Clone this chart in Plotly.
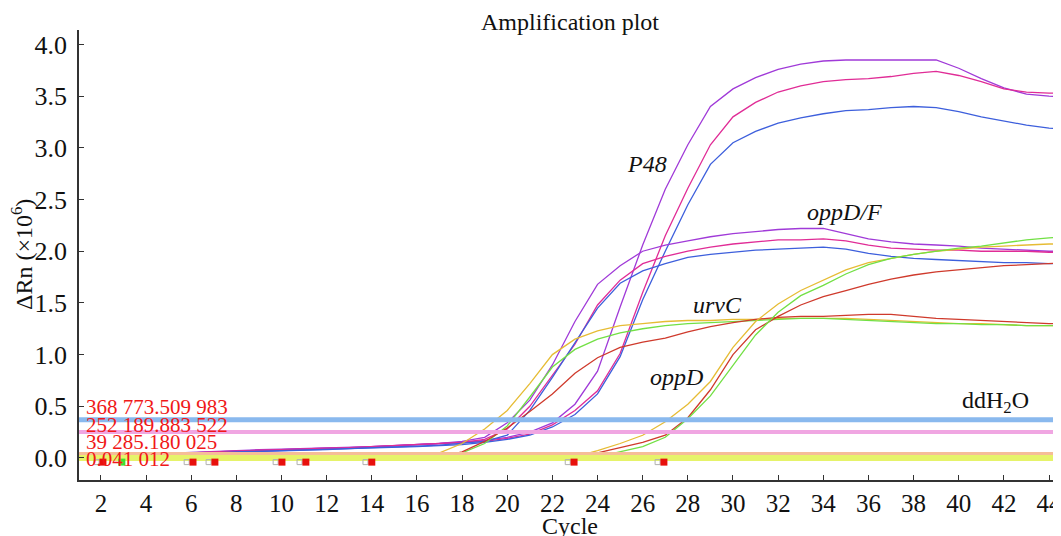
import plotly.graph_objects as go

cycles = list(range(1, 46))

p48_purple = [0.02, 0.025, 0.03, 0.035, 0.04, 0.05, 0.06, 0.07, 0.075, 0.08, 0.09, 0.095, 0.10, 0.11, 0.12, 0.13, 0.14, 0.15,
              0.17, 0.20, 0.25, 0.34, 0.52, 0.84, 1.46, 2.06, 2.60, 3.03, 3.40, 3.57, 3.68, 3.76, 3.81, 3.84, 3.85, 3.85,
              3.85, 3.85, 3.85, 3.77, 3.67, 3.58, 3.52, 3.50, 3.49]
p48_magenta = [0.02, 0.02, 0.025, 0.03, 0.035, 0.045, 0.055, 0.065, 0.07, 0.075, 0.085, 0.09, 0.095, 0.105, 0.115, 0.125, 0.135, 0.145,
               0.16, 0.19, 0.23, 0.32, 0.46, 0.65, 1.01, 1.60, 2.15, 2.61, 3.03, 3.30, 3.44, 3.54, 3.60, 3.64, 3.66, 3.67,
               3.69, 3.72, 3.74, 3.70, 3.64, 3.57, 3.54, 3.53, 3.53]
p48_blue = [0.015, 0.02, 0.02, 0.025, 0.03, 0.04, 0.05, 0.055, 0.06, 0.07, 0.075, 0.08, 0.09, 0.095, 0.10, 0.11, 0.12, 0.13,
            0.15, 0.18, 0.22, 0.30, 0.42, 0.62, 0.98, 1.53, 2.00, 2.45, 2.84, 3.05, 3.16, 3.24, 3.29, 3.33, 3.36, 3.37,
            3.39, 3.40, 3.39, 3.35, 3.30, 3.26, 3.22, 3.19, 3.18]

oppdf_purple = [0.02, 0.025, 0.03, 0.035, 0.045, 0.055, 0.065, 0.07, 0.08, 0.085, 0.09, 0.10, 0.105, 0.11, 0.12, 0.13, 0.14, 0.16,
                0.20, 0.34, 0.56, 0.90, 1.32, 1.68, 1.86, 2.00, 2.06, 2.10, 2.14, 2.17, 2.19, 2.21, 2.22, 2.22, 2.17, 2.12,
                2.09, 2.07, 2.06, 2.05, 2.03, 2.02, 2.01, 2.00, 2.00]
oppdf_magenta = [0.02, 0.02, 0.03, 0.035, 0.04, 0.05, 0.06, 0.07, 0.075, 0.08, 0.09, 0.095, 0.10, 0.11, 0.115, 0.125, 0.135, 0.15,
                 0.18, 0.28, 0.50, 0.80, 1.10, 1.48, 1.72, 1.88, 1.95, 2.00, 2.04, 2.07, 2.09, 2.11, 2.11, 2.12, 2.10, 2.06,
                 2.03, 2.02, 2.01, 2.01, 2.00, 2.00, 2.00, 1.99, 1.99]
oppdf_blue = [0.015, 0.02, 0.025, 0.03, 0.035, 0.045, 0.05, 0.06, 0.065, 0.07, 0.08, 0.085, 0.09, 0.10, 0.105, 0.115, 0.125, 0.14,
              0.16, 0.22, 0.46, 0.78, 1.12, 1.45, 1.69, 1.81, 1.88, 1.94, 1.97, 1.99, 2.01, 2.02, 2.03, 2.04, 2.02, 1.98,
              1.95, 1.93, 1.92, 1.91, 1.90, 1.89, 1.89, 1.88, 1.88]

urvc_yellow = [0.0, 0.0, 0.0, 0.0, 0.0, 0.0, 0.0, 0.0, 0.0, 0.0, 0.0, 0.0, 0.0, 0.0, 0.0, 0.01,
               0.05, 0.14, 0.28, 0.46, 0.72, 1.00, 1.15, 1.23, 1.28, 1.30, 1.32, 1.33, 1.33, 1.34, 1.34, 1.35, 1.35,
               1.35, 1.35, 1.34, 1.33, 1.32, 1.31, 1.30, 1.30, 1.29, 1.28, 1.28, 1.28]
urvc_green = [0.0, 0.0, 0.0, 0.0, 0.0, 0.0, 0.0, 0.0, 0.0, 0.0, 0.0, 0.0, 0.0, 0.0, 0.0, 0.0, 0.01,
              0.05, 0.14, 0.31, 0.59, 0.88, 1.05, 1.15, 1.21, 1.25, 1.28, 1.30, 1.31, 1.32, 1.33, 1.34, 1.35, 1.35,
              1.34, 1.33, 1.32, 1.31, 1.30, 1.30, 1.29, 1.29, 1.28, 1.28, 1.28]
urvc_red = [0.0, 0.0, 0.0, 0.0, 0.0, 0.0, 0.0, 0.0, 0.0, 0.0, 0.0, 0.0, 0.0, 0.0, 0.0, 0.0, 0.01,
            0.06, 0.16, 0.29, 0.45, 0.62, 0.82, 0.97, 1.07, 1.12, 1.16, 1.22, 1.27, 1.31, 1.34, 1.36, 1.37, 1.37,
            1.38, 1.39, 1.39, 1.37, 1.35, 1.34, 1.33, 1.32, 1.31, 1.30, 1.30]

oppd_yellow = [0.0, 0.0, 0.0, 0.0, 0.0, 0.0, 0.0, 0.0, 0.0, 0.0, 0.0, 0.0, 0.0, 0.0, 0.0, 0.0, 0.0, 0.0, 0.0, 0.0,
               0.0, 0.0, 0.01, 0.07, 0.14, 0.22, 0.35, 0.52, 0.74, 1.07, 1.32, 1.49, 1.62, 1.72, 1.82, 1.89, 1.93,
               1.97, 2.00, 2.02, 2.04, 2.05, 2.06, 2.07, 2.07]
oppd_red = [0.0, 0.0, 0.0, 0.0, 0.0, 0.0, 0.0, 0.0, 0.0, 0.0, 0.0, 0.0, 0.0, 0.0, 0.0, 0.0, 0.0, 0.0, 0.0, 0.0,
            0.0, 0.0, 0.01, 0.05, 0.10, 0.15, 0.22, 0.39, 0.66, 1.00, 1.24, 1.37, 1.48, 1.56, 1.62, 1.68, 1.73,
            1.77, 1.80, 1.82, 1.84, 1.86, 1.87, 1.88, 1.89]
oppd_green = [0.0, 0.0, 0.0, 0.0, 0.0, 0.0, 0.0, 0.0, 0.0, 0.0, 0.0, 0.0, 0.0, 0.0, 0.0, 0.0, 0.0, 0.0, 0.0, 0.0,
              0.0, 0.0, 0.0, 0.01, 0.06, 0.11, 0.20, 0.38, 0.60, 0.90, 1.19, 1.41, 1.57, 1.67, 1.78, 1.87, 1.93,
              1.97, 2.00, 2.03, 2.05, 2.08, 2.11, 2.13, 2.14]

# thresholds (x10^6) and their labels
threshold_values = [0.368773509983, 0.252189883522, 0.039285180025, 0.000041012]
threshold_labels = ["368 773.509 983", "252 189.883 522", "39 285.180 025", "0.041 012"]
threshold_colors = ["#8ab9ee", "#f0a6e2", "#f6bd98", "#e6f36a"]
threshold_widths = [5, 4, 4, 6]
label_y = [0.49, 0.32, 0.155, -0.01]

# baseline start/end markers
marker_cycles = [2.09, 6.08, 7.05, 10.02, 11.08, 14.0, 22.96, 26.94]
green_marker_cycles = [2.93]
marker_level = -0.04

x_tick_vals = list(range(2, 46, 2))
y_tick_vals = [0.0, 0.5, 1.0, 1.5, 2.0, 2.5, 3.0, 3.5, 4.0]
y_tick_text = ["0.0", "0.5", "1.0", "1.5", "2.0", "2.5", "3.0", "3.5", "4.0"]

gene_labels = ["<i>P48</i>", "<i>oppD/F</i>", "<i>urvC</i>", "<i>oppD</i>", "ddH<sub>2</sub>O"]
gene_x = [26.2, 34.96, 29.3, 27.5, 41.65]
gene_y = [2.84, 2.38, 1.48, 0.78, 0.54]

PURPLE = "#a03ad8"
MAGENTA = "#e02c96"
BLUE = "#3d5fdc"
YELLOW = "#e6bc34"
GREEN = "#72e044"
RED = "#cf3a2c"

series = [
    (p48_purple, PURPLE), (p48_magenta, MAGENTA), (p48_blue, BLUE),
    (oppdf_purple, PURPLE), (oppdf_magenta, MAGENTA), (oppdf_blue, BLUE),
    (urvc_yellow, YELLOW), (urvc_green, GREEN), (urvc_red, RED),
    (oppd_yellow, YELLOW), (oppd_red, RED), (oppd_green, GREEN),
]

FONT = "Liberation Serif, Times New Roman, serif"
TXT = "#111111"
X_RANGE = [1.03, 44.53]
Y_RANGE = [-0.213, 4.14]

# the page body has an 8 px default margin; size the figure to the visible area
OFF = 8
W, H = 1061 - OFF, 536 - OFF
ML, MR, MT, MB = 79 - OFF, 0, 30 - OFF, H - (480 - OFF)
PW, PH = W - ML - MR, H - MT - MB

fig = go.Figure()
for vals, col in series:
    fig.add_trace(go.Scatter(x=cycles, y=vals, mode="lines",
                             line=dict(color=col, width=1.3), hoverinfo="skip"))

for val, col, w in zip(threshold_values, threshold_colors, threshold_widths):
    fig.add_trace(go.Scatter(x=X_RANGE, y=[val, val], mode="lines",
                             line=dict(color=col, width=w), hoverinfo="skip"))

# small grey boxes next to red markers
fig.add_trace(go.Scatter(x=[c - 0.28 for c in marker_cycles], y=[marker_level] * len(marker_cycles),
                         mode="markers", marker=dict(symbol="square-open", size=5,
                                                     color="#b0b0b0", line=dict(width=1)),
                         hoverinfo="skip"))
fig.add_trace(go.Scatter(x=marker_cycles, y=[marker_level] * len(marker_cycles), mode="markers",
                         marker=dict(symbol="square", size=7, color="#e8100c"), hoverinfo="skip"))
fig.add_trace(go.Scatter(x=green_marker_cycles, y=[marker_level] * len(green_marker_cycles), mode="markers",
                         marker=dict(symbol="square", size=7, color="#3ee030"), hoverinfo="skip"))

for txt, yy in zip(threshold_labels, label_y):
    fig.add_annotation(x=0.005, xref="paper", y=yy, yref="y", text=txt, showarrow=False,
                       xanchor="left", yanchor="middle",
                       font=dict(family=FONT, size=21, color="#f01818"))

for txt, xx, yy in zip(gene_labels, gene_x, gene_y):
    fig.add_annotation(x=xx, y=yy, text=txt, showarrow=False, xanchor="center", yanchor="middle",
                       font=dict(family=FONT, size=24, color=TXT))

# axis titles
fig.add_annotation(x=0.5, xref="paper", y=(H - MB - (526 - OFF)) / PH, yref="paper", text="Cycle",
                   showarrow=False, xanchor="center", yanchor="middle",
                   font=dict(family=FONT, size=24, color=TXT))
fig.add_annotation(x=((22 - OFF) - ML) / PW, xref="paper", y=(H - MB - (255 - OFF)) / PH, yref="paper",
                   text="ΔRn (×10<sup>6</sup>)", textangle=-90, showarrow=False,
                   xanchor="center", yanchor="middle", font=dict(family=FONT, size=24, color=TXT))

fig.update_layout(
    width=W, height=H,
    margin=dict(l=ML, r=MR, t=MT, b=MB, autoexpand=False),
    paper_bgcolor="white", plot_bgcolor="white",
    showlegend=False,
    font=dict(family=FONT, size=24, color=TXT),
    title=dict(text="Amplification plot", x=0.5, xref="paper", y=1 - (22 - OFF) / H, yref="container",
               xanchor="center", yanchor="middle", font=dict(family=FONT, size=24, color=TXT)),
    xaxis=dict(range=X_RANGE, tickvals=x_tick_vals, ticks="inside", ticklen=5, tickwidth=1,
               tickcolor="#333", showline=True, linecolor="#333", linewidth=1.5, showgrid=False,
               zeroline=False, automargin=False, ticklabelstandoff=0, ticklabeloverflow="allow",
               tickfont=dict(family=FONT, size=25, color=TXT)),
    yaxis=dict(range=Y_RANGE, tickvals=y_tick_vals, ticktext=y_tick_text, ticks="inside", ticklen=5,
               tickwidth=1, tickcolor="#333", showline=True, linecolor="#333", linewidth=1.5,
               showgrid=False, zeroline=False, automargin=False, ticklabelstandoff=5,
               tickfont=dict(family=FONT, size=26, color=TXT)),
)

fig.write_html("out.html")
